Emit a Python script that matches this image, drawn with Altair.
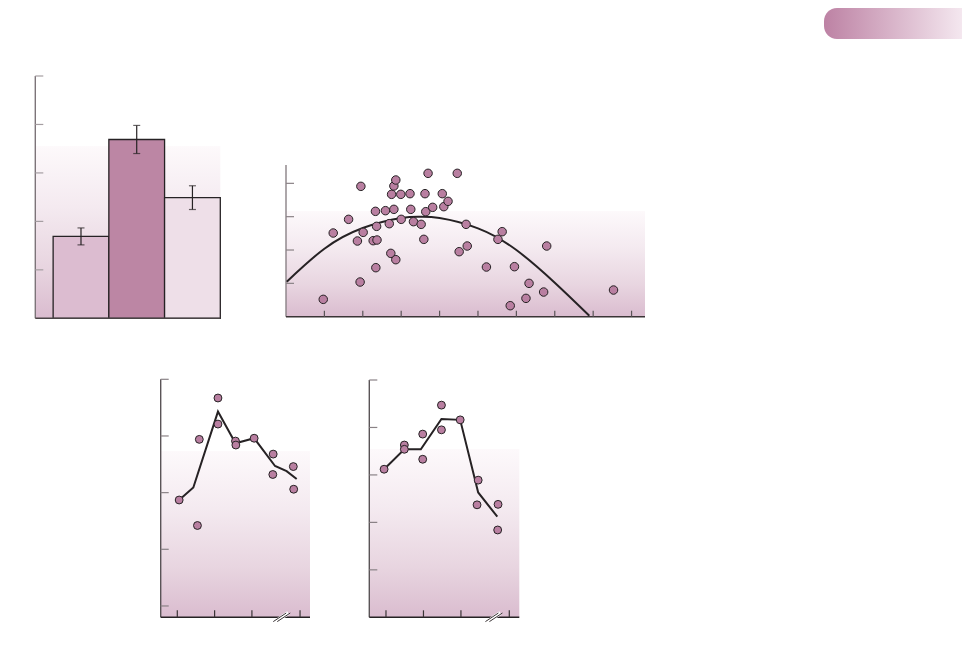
import altair as alt
import pandas as pd

# ---------------- data ----------------
bar_groups = ["A", "B", "C"]
bar_pos = [1, 2, 3]
bar_values = [1.69, 3.69, 2.49]
bar_errors = [0.175, 0.29, 0.245]
p1_yticks = [1, 2, 3, 4, 5]

scatter_x = [0.97, 1.23, 1.63, 1.95, 1.86, 2.01, 1.93, 2.27, 2.37, 2.34, 2.33, 2.36,
             2.59, 2.69, 2.73, 2.86, 2.81, 2.75, 2.81, 2.86, 2.99, 3.00, 3.23, 3.25,
             3.32, 3.52, 3.59, 3.62, 3.64, 3.70, 3.82, 4.07, 4.11, 4.22, 4.46, 4.51,
             4.69, 4.72, 5.22, 5.52, 5.63, 5.84, 5.95, 6.25, 6.33, 6.71, 6.79, 8.53]
scatter_y = [0.52, 2.51, 2.92, 3.91, 2.27, 2.53, 1.04, 2.28, 2.30, 1.47, 3.16, 2.71,
             3.18, 2.79, 1.90, 1.71, 3.22, 3.67, 3.92, 4.10, 3.67, 2.92, 3.69, 3.22,
             2.85, 2.77, 2.32, 3.69, 3.15, 4.30, 3.28, 3.69, 3.30, 3.46, 4.30, 1.95,
             2.77, 2.12, 1.49, 2.32, 2.55, 0.33, 1.50, 0.55, 1.00, 0.74, 2.12, 0.80]
curve_x = [0.02, 1.0, 2.0, 3.0, 3.5, 4.0, 5.0, 6.0, 7.0, 7.9]
curve_y = [1.05, 2.04, 2.66, 2.96, 3.00, 2.96, 2.65, 2.00, 1.02, 0.03]
p2_xticks = [1, 2, 3, 4, 5, 6, 7, 8, 9]
p2_yticks = [1, 2, 3, 4]

p3_x = [0.05, 0.54, 0.59, 1.09, 1.09, 1.56, 1.57, 2.06, 2.57, 2.56, 3.11, 3.12]
p3_y = [1.87, 1.42, 2.94, 3.67, 3.21, 2.91, 2.84, 2.96, 2.68, 2.32, 2.46, 2.06]
p3_line_x = [0.05, 0.43, 1.09, 1.56, 2.06, 2.62, 2.93, 3.20]
p3_line_y = [1.87, 2.09, 3.43, 2.87, 2.96, 2.47, 2.38, 2.24]
p3_xticks = [0, 1, 2, 3.29]
p3_yticks = [0, 1, 2, 3, 4]
p3_break = [2.80]

p4_x = [-0.05, 0.49, 0.49, 0.98, 0.98, 1.48, 1.48, 1.98, 2.46, 2.43, 2.99, 2.98]
p4_y = [3.12, 3.63, 3.54, 3.86, 3.33, 4.47, 3.95, 4.16, 2.89, 2.37, 2.38, 1.84]
p4_line_x = [-0.05, 0.49, 0.93, 1.48, 1.98, 2.46, 2.97]
p4_line_y = [3.12, 3.54, 3.54, 4.18, 4.16, 2.63, 2.12]
p4_xticks = [0, 1, 2, 3.29]
p4_yticks = [1, 2, 3, 4, 5]
p4_break = [2.88]

# ---------------- styles ----------------
BAR_COLORS = ["#dcbcd0", "#bc86a4", "#eedfe8"]
DOT_FILL = "#b97fa1"
INK = "#262224"


def bg_gradient(f):
    r = 1 - f
    return {"gradient": "linear", "x1": 0, "y1": 0, "x2": 0, "y2": 1,
            "stops": [{"offset": 0, "color": "#ffffff"},
                      {"offset": f, "color": "#ffffff"},
                      {"offset": f + 0.001, "color": "#fdf9fb"},
                      {"offset": f + 0.35 * r, "color": "#f4eaf0"},
                      {"offset": f + 0.70 * r, "color": "#e8d5e0"},
                      {"offset": 1, "color": "#dabccf"}]}


def frame(sx, sy, xdom, ydom, xticks, yticks, f, ycol, xcol, ytcol, xtcol,
          xlen=7, ylen=8):
    ext = pd.DataFrame({"x0": [xdom[0]], "x1": [xdom[1]], "y0": [ydom[0]], "y1": [ydom[1]]})
    X = alt.X("x0:Q", scale=sx, axis=None)
    Y = alt.Y("y0:Q", scale=sy, axis=None)
    bg = alt.Chart(ext).mark_rect(fill=bg_gradient(f)).encode(x=X, x2="x1:Q", y=Y, y2="y1:Q")
    yline = alt.Chart(ext).mark_rule(color=ycol, strokeWidth=1.4).encode(x=X, y=Y, y2="y1:Q")
    xline = alt.Chart(ext).mark_rule(color=xcol, strokeWidth=1.4).encode(x=X, x2="x1:Q", y=Y)
    layers_back = [bg]
    layers_front = [yline, xline]
    if yticks:
        ydf = pd.DataFrame({"t": yticks, "x0": [xdom[0]] * len(yticks)})
        layers_front.append(
            alt.Chart(ydf).mark_rule(color=ytcol, strokeWidth=1.2, x2Offset=ylen).encode(
                x=X, x2="x0:Q", y=alt.Y("t:Q", scale=sy, axis=None)))
    if xticks:
        xdf = pd.DataFrame({"t": xticks, "y0": [ydom[0]] * len(xticks)})
        layers_front.append(
            alt.Chart(xdf).mark_rule(color=xtcol, strokeWidth=1.2, y2Offset=-xlen).encode(
                x=alt.X("t:Q", scale=sx, axis=None), y=Y, y2="y0:Q"))
    return layers_back, layers_front


def nozero(domain, rng):
    return alt.Scale(domain=domain, range=rng, nice=False, zero=False)


# ---------------- panel 1: bars ----------------
p1_xdom, p1_ydom = [0.18, 3.5], [0, 5]
sx1 = nozero(p1_xdom, [27.3, 212.3])
sy1 = nozero(p1_ydom, [310.3, 68])
bars_df = pd.DataFrame({"group": bar_groups, "pos": bar_pos, "value": bar_values, "err": bar_errors})
base1 = alt.Chart(bars_df).transform_calculate(
    left="datum.pos - 0.5", right="datum.pos + 0.5",
    lo="datum.value - datum.err", hi="datum.value + datum.err", zero="0")
bars = base1.mark_rect(stroke=INK, strokeWidth=1.3).encode(
    x=alt.X("left:Q", scale=sx1, axis=None), x2="right:Q",
    y=alt.Y("zero:Q", scale=sy1, axis=None), y2="value:Q",
    color=alt.Color("group:N", scale=alt.Scale(domain=bar_groups, range=BAR_COLORS), legend=None))
err = base1.mark_rule(color=INK, strokeWidth=1.2).encode(
    x=alt.X("pos:Q", scale=sx1, axis=None), y=alt.Y("lo:Q", scale=sy1, axis=None), y2="hi:Q")
cap_lo = base1.mark_tick(color=INK, orient="horizontal", size=7, thickness=1.2).encode(
    x=alt.X("pos:Q", scale=sx1, axis=None), y=alt.Y("lo:Q", scale=sy1, axis=None))
cap_hi = base1.mark_tick(color=INK, orient="horizontal", size=7, thickness=1.2).encode(
    x=alt.X("pos:Q", scale=sx1, axis=None), y=alt.Y("hi:Q", scale=sy1, axis=None))
b1, f1 = frame(sx1, sy1, p1_xdom, p1_ydom, [], p1_yticks, 0.29,
               "#7d7479", "#4a4446", "#a59ea2", "#555")
panel1 = alt.layer(*b1, bars, err, cap_lo, cap_hi, *f1)

# ---------------- panel 2: scatter + curve ----------------
p2_xdom, p2_ydom = [0, 9.35], [0, 4.55]
sx2 = nozero(p2_xdom, [278, 637])
sy2 = nozero(p2_ydom, [308.7, 157])
sc_df = pd.DataFrame({"x": scatter_x, "y": scatter_y})
cv_df = pd.DataFrame({"x": curve_x, "y": curve_y})
curve = alt.Chart(cv_df).mark_line(color=INK, strokeWidth=2, interpolate="natural").encode(
    x=alt.X("x:Q", scale=sx2, axis=None), y=alt.Y("y:Q", scale=sy2, axis=None))
dots2 = alt.Chart(sc_df).mark_point(filled=True, shape="circle", size=72, fill=DOT_FILL,
                                    stroke=INK, strokeWidth=1, opacity=1).encode(
    x=alt.X("x:Q", scale=sx2, axis=None), y=alt.Y("y:Q", scale=sy2, axis=None))
b2, f2 = frame(sx2, sy2, p2_xdom, p2_ydom, p2_xticks, p2_yticks, 0.30,
               "#8a8286", "#3a3436", "#8a8286", "#5a5457", xlen=6)
panel2 = alt.layer(*b2, *f2, curve, dots2)


# ---------------- panels 3 & 4: line + dots ----------------
def line_panel(px, py, lx, ly, xdom, ydom, xr, yr, xticks, yticks, brk, f):
    sx = nozero(xdom, xr)
    sy = nozero(ydom, yr)
    ddf = pd.DataFrame({"x": px, "y": py})
    ldf = pd.DataFrame({"x": lx, "y": ly})
    line = alt.Chart(ldf).mark_line(color=INK, strokeWidth=2).encode(
        x=alt.X("x:Q", scale=sx, axis=None), y=alt.Y("y:Q", scale=sy, axis=None))
    dots = alt.Chart(ddf).mark_point(filled=True, shape="circle", size=62, fill=DOT_FILL,
                                     stroke=INK, strokeWidth=1, opacity=1).encode(
        x=alt.X("x:Q", scale=sx, axis=None), y=alt.Y("y:Q", scale=sy, axis=None))
    b, fr = frame(sx, sy, xdom, ydom, xticks, yticks, f,
                  "#5a5457", "#262224", "#8a8286", "#3a3436")
    # axis break symbol "//"
    ppx = (xr[1] - xr[0]) / (xdom[1] - xdom[0])
    ppy = (yr[0] - yr[1]) / (ydom[1] - ydom[0])
    dx, dy = 6.5 / ppx, 4.3 / ppy
    bdf = pd.DataFrame({"xa": [b_ - dx for b_ in brk], "xb": [b_ + dx for b_ in brk],
                        "ya": [ydom[0] - dy] * len(brk), "yb": [ydom[0] + dy] * len(brk)})
    enc = dict(x=alt.X("xa:Q", scale=sx, axis=None), x2="xb:Q",
               y=alt.Y("ya:Q", scale=sy, axis=None), y2="yb:Q")
    gap = alt.Chart(bdf).mark_rule(color="white", strokeWidth=4).encode(**enc)
    s1 = alt.Chart(bdf).mark_rule(color="#3a3436", strokeWidth=1, xOffset=-2, x2Offset=-2).encode(**enc)
    s2 = alt.Chart(bdf).mark_rule(color="#3a3436", strokeWidth=1, xOffset=2, x2Offset=2).encode(**enc)
    return alt.layer(*b, *fr, gap, s1, s2, line, dots)


panel3 = line_panel(p3_x, p3_y, p3_line_x, p3_line_y, [-0.445, 3.557], [-0.2, 4.0],
                    [152.7, 302], [609.3, 371.3], p3_xticks, p3_yticks, p3_break, 0.30)
panel4 = line_panel(p4_x, p4_y, p4_line_x, p4_line_y, [-0.445, 3.557], [0, 5],
                    [361.3, 511.3], [609.3, 372], p4_xticks, p4_yticks, p4_break, 0.29)

# ---------------- corner tab ----------------
tab_grad = {"gradient": "linear", "x1": 0, "y1": 0, "x2": 1, "y2": 0,
            "stops": [{"offset": 0, "color": "#bd82a4"},
                      {"offset": 1, "color": "#f4e7ef"}]}
tab = alt.Chart(pd.DataFrame({"k": [0]})).mark_rect(
    fill=tab_grad, cornerRadiusTopLeft=13, cornerRadiusBottomLeft=13).encode(
    x=alt.value(816), x2=alt.value(954), y=alt.value(0), y2=alt.value(31))

chart = alt.layer(panel1, panel2, panel3, panel4, tab).resolve_scale(
    x="independent", y="independent"
).properties(
    width=954, height=630, padding=0,
    autosize=alt.AutoSizeParams(type="none")
).configure_view(stroke=None)

chart.save("out.html", embed_options={"renderer": "svg", "actions": False})
